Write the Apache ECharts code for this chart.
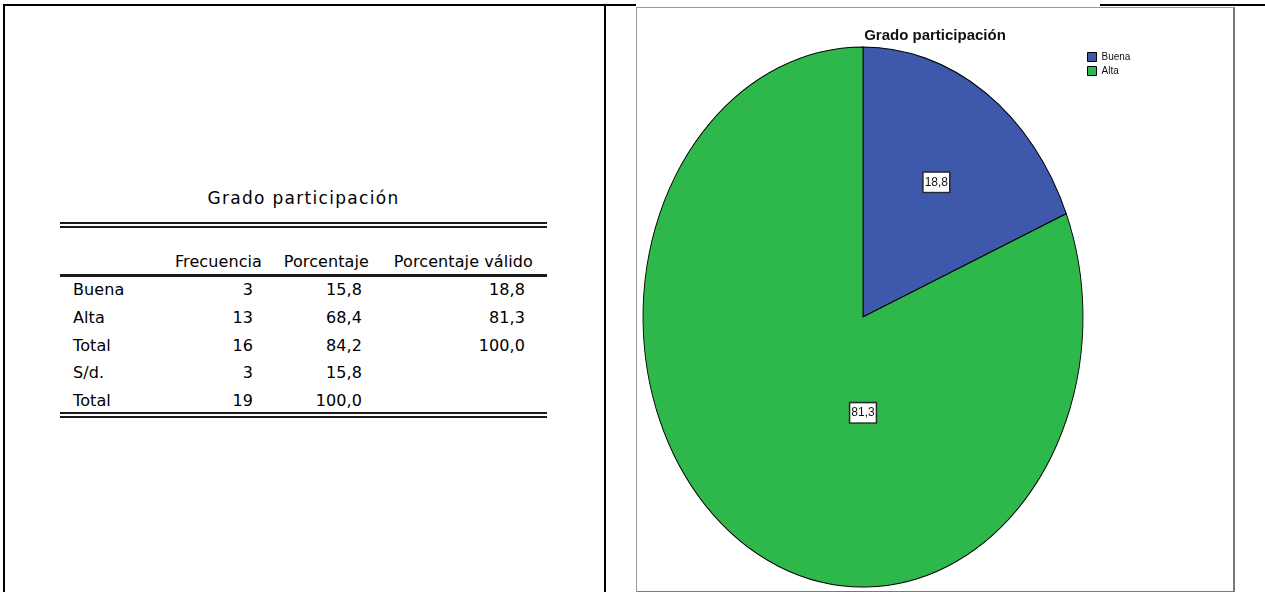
<!DOCTYPE html>
<html>
<head>
<meta charset="utf-8">
<script src="https://cdn.jsdelivr.net/npm/echarts@6/dist/echarts.min.js"></script>
<style>
  html, body { margin: 0; padding: 0; background: #fff; }
  body { width: 1265px; height: 592px; position: relative; overflow: hidden; }
  .ln { position: absolute; background: #000; }
  .tl { position: absolute; background: #1a1a1a; }
  .cell { position: absolute; font-family: "DejaVu Sans", sans-serif; font-size: 16px; line-height: 20px; color: #000; white-space: nowrap; letter-spacing: 0.1px; }
  #chart { position: absolute; left: 636px; top: 7px; width: 599px; height: 586px; box-sizing: border-box;
           border-left: 1px solid #9a9a9a; border-top: 1px solid #9a9a9a; border-right: 2px solid #7a7a7a; border-bottom: 2px solid #7a7a7a; }
</style>
</head>
<body>
<div id="table"></div>
<div id="chart"></div>
<script>
// ---------- data ----------
const tableTitle = 'Grado participación';
const headers = ['Frecuencia', 'Porcentaje', 'Porcentaje válido'];
const rowLabels = ['Buena', 'Alta', 'Total', 'S/d.', 'Total'];
const frecuencia = [3, 13, 16, 3, 19];
const porcentaje = [15.8, 68.4, 84.2, 15.8, 100.0];
const porcentajeValido = [18.8, 81.3, 100.0, null, null];

const chartTitle = 'Grado participación';
const pieCategories = ['Buena', 'Alta'];
const pieFrecuencia = [3, 13];
const pieValido = [18.8, 81.3];

// ---------- styles ----------
const pieColors = ['#3e58ac', '#2eb84b'];
const pieCenter = [226, 309];   // px inside chart div
const pieRx = 220, pieRy = 270;
const labelPlacement = [{ rFrac: 0.6 }, { rFrac: 0.355, angleDeg: 180 }];

function fmt(v) { return v == null ? '' : v.toFixed(1).replace('.', ','); }

// ---------- frame ----------
function addDiv(cls, l, t, w, h, parent) {
  const d = document.createElement('div');
  d.className = cls;
  Object.assign(d.style, { left: l + 'px', top: t + 'px', width: w + 'px', height: h + 'px' });
  (parent || document.body).appendChild(d);
  return d;
}
addDiv('ln', 3, 4, 2, 588);
addDiv('ln', 604, 4, 2, 588);
addDiv('ln', 3, 4, 633, 2);
addDiv('ln', 1100, 4, 165, 2);

// ---------- table ----------
const tb = document.getElementById('table');
const tTitle = document.createElement('div');
tTitle.className = 'cell';
tTitle.textContent = tableTitle;
Object.assign(tTitle.style, { left: '60px', width: '487px', top: '188px', textAlign: 'center', fontSize: '17px', letterSpacing: '1.3px' });
tb.appendChild(tTitle);

addDiv('tl', 60, 222, 487, 2, tb);
addDiv('tl', 60, 226, 487, 2, tb);
addDiv('tl', 60, 274, 487, 3, tb);
addDiv('tl', 60, 412, 487, 2, tb);
addDiv('tl', 60, 416, 487, 2, tb);

const headerRight = [262, 369, 533];
headers.forEach((h, i) => {
  const d = document.createElement('div');
  d.className = 'cell';
  d.textContent = h;
  d.style.top = (262 - 10) + 'px';
  d.style.right = (1265 - headerRight[i]) + 'px';
  tb.appendChild(d);
});
const colRight = [253, 362, 525];
rowLabels.forEach((lab, r) => {
  const cy = 290 + r * 27.75;
  const vals = [String(frecuencia[r]), fmt(porcentaje[r]), fmt(porcentajeValido[r])];
  const dl = document.createElement('div');
  dl.className = 'cell';
  dl.textContent = lab;
  dl.style.left = '73px';
  dl.style.top = (cy - 10) + 'px';
  tb.appendChild(dl);
  vals.forEach((v, c) => {
    if (!v) return;
    const d = document.createElement('div');
    d.className = 'cell';
    d.textContent = v;
    d.style.top = (cy - 10) + 'px';
    d.style.right = (1265 - colRight[c]) + 'px';
    tb.appendChild(d);
  });
});

// ---------- chart ----------
const chart = echarts.init(document.getElementById('chart'), null, { renderer: 'canvas' });
const total = pieFrecuencia.reduce((a, b) => a + b, 0);
const cumStart = [];
pieFrecuencia.reduce((acc, v, i) => { cumStart[i] = acc; return acc + v; }, 0);

const series = pieCategories.map((name, i) => ({
  type: 'custom',
  name: name,
  coordinateSystem: 'none',
  itemStyle: { color: pieColors[i], borderColor: '#000', borderWidth: 1 },
  data: [pieFrecuencia[i]],
  renderItem: function (params, api) {
    const v = api.value(0);
    const a0 = -Math.PI / 2 + cumStart[i] / total * Math.PI * 2;
    const a1 = a0 + v / total * Math.PI * 2;
    const k = pieRy / pieRx;
    const lp = labelPlacement[i];
    const mid = lp.angleDeg != null ? (lp.angleDeg - 90) * Math.PI / 180 : (a0 + a1) / 2;
    const lx = pieCenter[0] + Math.cos(mid) * pieRx * lp.rFrac;
    const ly = pieCenter[1] + Math.sin(mid) * pieRx * lp.rFrac * k;
    return {
      type: 'group',
      children: [
        {
          type: 'sector',
          x: pieCenter[0], y: pieCenter[1],
          scaleX: 1, scaleY: k,
          shape: { cx: 0, cy: 0, r0: 0, r: pieRx, startAngle: a0, endAngle: a1, clockwise: true },
          style: { fill: pieColors[i], stroke: '#000', lineWidth: 0.9 }
        },
        {
          type: 'text',
          x: lx, y: ly,
          style: {
            text: fmt(pieValido[i]),
            align: 'center', verticalAlign: 'middle',
            textAlign: 'center', textVerticalAlign: 'middle',
            font: '12px "Liberation Sans", Arial, sans-serif',
            fill: '#111',
            backgroundColor: '#fff',
            borderColor: '#2a2a2a',
            borderWidth: 1.5,
            padding: [4, 1, 3, 1]
          }
        }
      ]
    };
  }
}));

chart.setOption({
  animation: false,
  title: {
    text: chartTitle,
    left: 'center',
    top: 15,
    textStyle: { fontFamily: '"Liberation Sans", Arial, sans-serif', fontWeight: 'bold', fontSize: 15, color: '#111' }
  },
  legend: {
    orient: 'vertical',
    left: 450,
    top: 44,
    padding: 0,
    itemWidth: 9,
    itemHeight: 9,
    itemGap: 4,
    icon: 'rect',
    data: pieCategories,
    itemStyle: { borderColor: '#000', borderWidth: 1 },
    textStyle: { fontFamily: '"Liberation Sans", Arial, sans-serif', fontSize: 10, color: '#111' },
    selectedMode: false
  },
  tooltip: { show: false },
  series: series
});
</script>
</body>
</html>
